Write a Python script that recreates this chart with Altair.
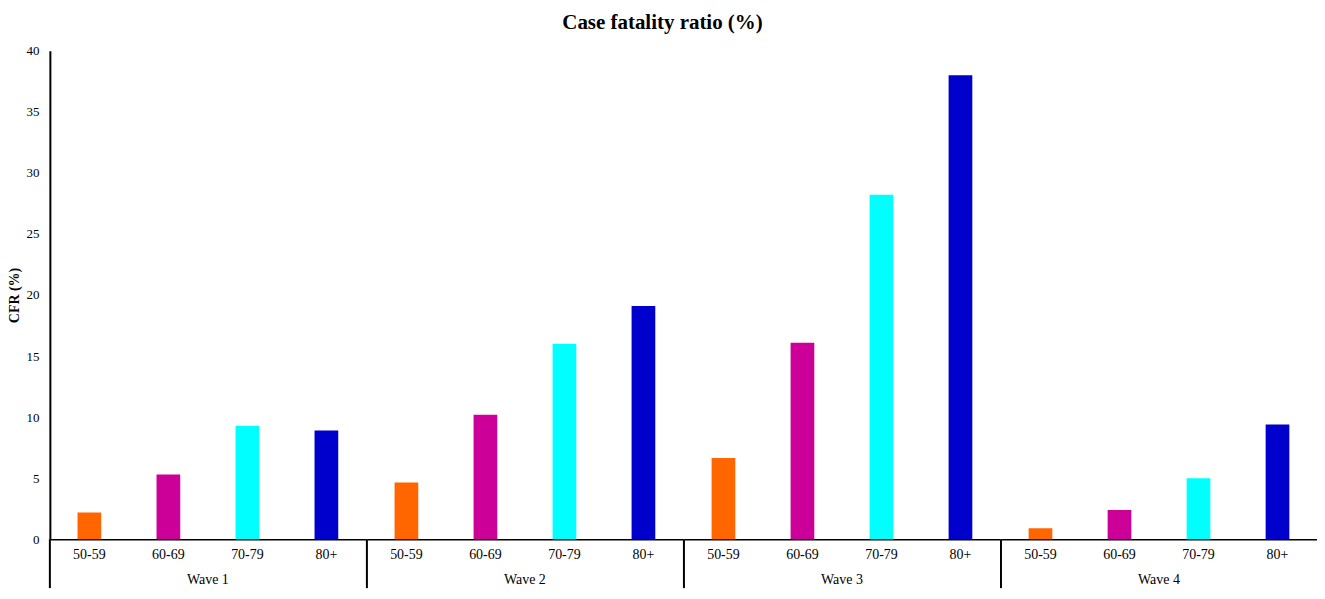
import altair as alt
import pandas as pd

waves = ["Wave 1", "Wave 2", "Wave 3", "Wave 4"]
ages = ["50-59", "60-69", "70-79", "80+"]
wave1 = [2.2, 5.3, 9.3, 8.9]
wave2 = [4.65, 10.2, 16.0, 19.1]
wave3 = [6.65, 16.1, 28.2, 38.0]
wave4 = [0.9, 2.4, 5.0, 9.4]
colors = ["#FF6600", "#CC0099", "#00FFFF", "#0000CC"]

rows = []
for w, vals in zip(waves, [wave1, wave2, wave3, wave4]):
    for a, v in zip(ages, vals):
        rows.append({"wave": w, "age": a, "cfr": v})
df = pd.DataFrame(rows)

FONT = "Liberation Serif"
W, H = 317, 490


def panel(wave, first):
    data = df[df["wave"] == wave]
    if first:
        yaxis = alt.Axis(title="CFR (%)", values=list(range(0, 41, 5)), grid=False,
                         ticks=False, domainColor="black", domainWidth=2,
                         labelPadding=11, labelFont=FONT, labelFontSize=13,
                         labelColor="black", titleFont=FONT, titleFontSize=14,
                         titleFontWeight="bold", titleColor="black", titlePadding=4)
    else:
        yaxis = None
    bars = alt.Chart(data).mark_bar().encode(
        x=alt.X("age:N", sort=ages,
                scale=alt.Scale(paddingInner=0.7, paddingOuter=0.35),
                axis=alt.Axis(title=None, labelAngle=0, ticks=False, domainColor="black",
                              domainWidth=1.5, labelPadding=8, labelFont=FONT,
                              labelFontSize=14, labelColor="black")),
        y=alt.Y("cfr:Q", scale=alt.Scale(domain=[0, 40], nice=False), axis=yaxis),
        color=alt.Color("age:N", sort=ages, scale=alt.Scale(domain=ages, range=colors),
                        legend=None),
    )
    one = alt.Chart(data).transform_filter(alt.datum.age == "50-59")
    sep = one.mark_rule(color="black", strokeWidth=2).encode(
        x=alt.value(0), y=alt.value(H), y2=alt.value(H + 49))
    label = one.mark_text(font=FONT, fontSize=14, color="black").encode(
        x=alt.value(W / 2), y=alt.value(H + 41), text="wave:N")
    return alt.layer(bars, sep, label).properties(width=W, height=H)


chart = alt.hconcat(
    *[panel(w, i == 0) for i, w in enumerate(waves)], spacing=0
).properties(
    title=alt.TitleParams("Case fatality ratio (%)", font=FONT, fontSize=21,
                          fontWeight="bold", color="black", offset=12, anchor="middle"),
    padding={"top": 3, "left": 0, "right": 0, "bottom": 0},
).configure_view(stroke=None)

chart.save("out.html", embed_options={"renderer": "svg", "actions": False})
